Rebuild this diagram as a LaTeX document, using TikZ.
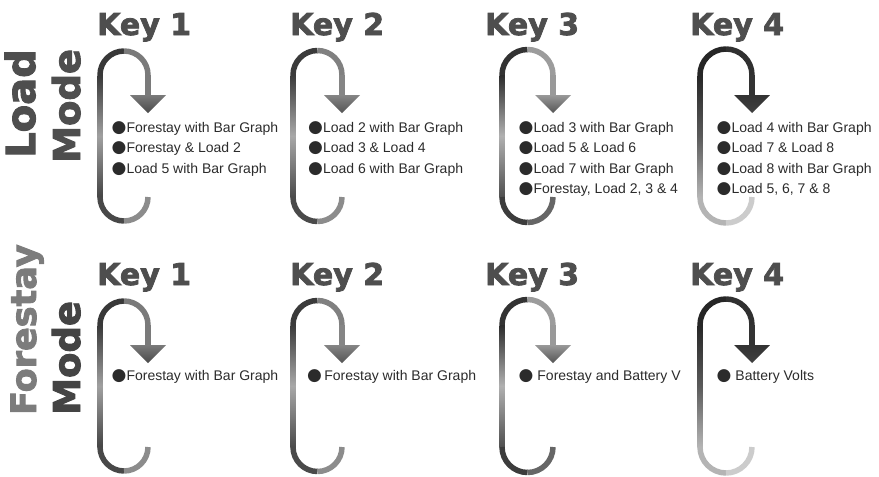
\documentclass[tikz,border=0pt]{standalone}
\usepackage{fontspec}
\setmainfont{Liberation Sans}
\newfontfamily\headfont{DejaVu Sans}[BoldFeatures={FakeBold=2.6}]
\newfontfamily\dotfont{DejaVu Sans}

\definecolor{head}{HTML}{4E4E4E}
\definecolor{forestay}{HTML}{7C7C7C}
\definecolor{modedark}{HTML}{444444}
\definecolor{txt}{HTML}{2B2B2B}
% loop colours, one set per key
\definecolor{up1}{HTML}{383838}\definecolor{mid1}{HTML}{A0A0A0}\definecolor{low1}{HTML}{454545}
\definecolor{arcl1}{HTML}{383838}\definecolor{arcr1}{HTML}{7A7A7A}\definecolor{stem1}{HTML}{7A7A7A}
\definecolor{head1}{HTML}{4A4A4A}\definecolor{bowl1}{HTML}{484848}\definecolor{bowlr1}{HTML}{8C8C8C}
\definecolor{up2}{HTML}{3A3A3A}\definecolor{mid2}{HTML}{A8A8A8}\definecolor{low2}{HTML}{4A4A4A}
\definecolor{arcl2}{HTML}{3A3A3A}\definecolor{arcr2}{HTML}{808080}\definecolor{stem2}{HTML}{858585}
\definecolor{head2}{HTML}{555555}\definecolor{bowl2}{HTML}{4A4A4A}\definecolor{bowlr2}{HTML}{8C8C8C}
\definecolor{up3}{HTML}{2C2C2C}\definecolor{mid3}{HTML}{B0B0B0}\definecolor{low3}{HTML}{505050}
\definecolor{arcl3}{HTML}{333333}\definecolor{arcr3}{HTML}{9C9C9C}\definecolor{stem3}{HTML}{999999}
\definecolor{head3}{HTML}{555555}\definecolor{bowl3}{HTML}{3C3C3C}\definecolor{bowlr3}{HTML}{666666}
\definecolor{up4}{HTML}{262626}\definecolor{mid4}{HTML}{5A5A5A}\definecolor{low4}{HTML}{B4B4B4}
\definecolor{arcl4}{HTML}{262626}\definecolor{arcr4}{HTML}{303030}\definecolor{stem4}{HTML}{333333}
\definecolor{head4}{HTML}{404040}\definecolor{bowl4}{HTML}{B4B4B4}\definecolor{bowlr4}{HTML}{CCCCCC}

\newcommand\dotmark{{\dotfont\fontsize{17}{17}\selectfont ●}}

\begin{document}
\begin{tikzpicture}[x=1pt,y=-1pt,
		keytitle/.style={font=\headfont\bfseries\fontsize{30}{30}\selectfont, text=head, anchor=base west, inner sep=0},
		modetitle/.style={font=\headfont\bfseries\fontsize{#1}{#1}\selectfont, rotate=90, anchor=base west, inner sep=0},
		item/.style={font=\fontsize{14}{16}\selectfont, text=txt, anchor=base west, inner sep=0},
		tube/.style={line width=5.5pt}]
	\useasboundingbox (0,0) rectangle (879,477);

	% the loops
	\foreach \dy in {0,250}
	\foreach \k/\xl/\xr in {1/100/148, 2/293/342, 3/502/553, 4/700/752} {
		\pgfmathsetmacro\r{(\xr-\xl)/2}
		\shade[top color=up\k, bottom color=low\k, middle color=mid\k] (\xl-2.75,75+\dy) rectangle (\xl+2.75,197+\dy);
		\draw[tube, arcl\k] (\xl,75+\dy) arc[start angle=180, end angle=270, radius=\r];
		\draw[tube, arcr\k] (\xl+\r,75+\dy-\r) arc[start angle=270, end angle=360, radius=\r];
		\draw[tube, stem\k] (\xr,75+\dy) -- (\xr,96+\dy);
		\shade[top color=stem\k, bottom color=head\k] (\xr-18,95+\dy) -- (\xr+18,95+\dy) -- (\xr,113+\dy) -- cycle;
		\draw[tube, bowl\k] (\xl,197+\dy) arc[start angle=180, end angle=90, radius=\r];
		\draw[tube, bowlr\k] (\xl+\r,197+\dy+\r) arc[start angle=90, end angle=0, radius=\r];
	}

	% titles
	\foreach \k/\x in {1/97, 2/290, 3/485, 4/690} {
		\node[keytitle] (lkey\k) at (\x,35) {Key \k};
		\node[keytitle] (fkey\k) at (\x,285) {Key \k};
	}
	\node[modetitle=40, text=head] (load) at (35,158) {Load};
	\node[modetitle=37, text=head] (lmode) at (80,163) {Mode};
	\node[modetitle=35, text=forestay] (forestay) at (36,415) {Forestay};
	\node[modetitle=37, text=modedark] (fmode) at (80,415) {Mode};

	% load mode lists
	\foreach \t [count=\i] in {Forestay with Bar Graph, Forestay \& Load 2, Load 5 with Bar Graph}
		\node[item] (lk1-\i) at (111.5,112.2+20.3*\i) {\dotmark\t};
	\foreach \t [count=\i] in {Load 2 with Bar Graph, Load 3 \& Load 4, Load 6 with Bar Graph}
		\node[item] (lk2-\i) at (308,112.2+20.3*\i) {\dotmark\t};
	\foreach \t [count=\i] in {Load 3 with Bar Graph, Load 5 \& Load 6, Load 7 with Bar Graph, {Forestay, Load 2, 3 \& 4}}
		\node[item] (lk3-\i) at (518.5,112.2+20.3*\i) {\dotmark\t};
	\foreach \t [count=\i] in {Load 4 with Bar Graph, Load 7 \& Load 8, Load 8 with Bar Graph, {Load 5, 6, 7 \& 8}}
		\node[item] (lk4-\i) at (716.5,112.2+20.3*\i) {\dotmark\t};

	% forestay mode lists
	\node[item] (fk1) at (111.5,380) {\dotmark Forestay with Bar Graph};
	\node[item] (fk2) at (307,380) {\dotmark\,Forestay with Bar Graph};
	\node[item] (fk3) at (518.5,380) {\dotmark\ Forestay and Battery V};
	\node[item] (fk4) at (716.5,380) {\dotmark\ Battery Volts};
\end{tikzpicture}
\end{document}
